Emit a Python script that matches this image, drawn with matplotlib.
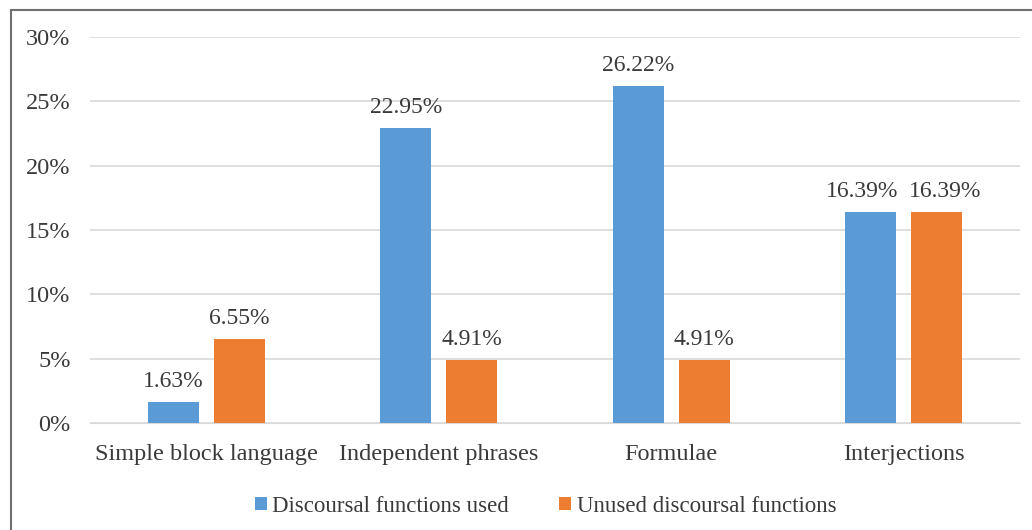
import matplotlib

matplotlib.use("Agg")
import matplotlib.pyplot as plt
import numpy as np
from matplotlib.patches import Rectangle

categories = ["Simple block language", "Independent phrases", "Formulae", "Interjections"]
used = [1.63, 22.95, 26.22, 16.39]
unused = [6.55, 4.91, 4.91, 16.39]
series_names = ["Discoursal functions used", "Unused discoursal functions"]

BLUE = "#5B9BD5"
ORANGE = "#ED7D31"
TEXT = "#3A3A3A"

plt.rcParams["font.family"] = ["Liberation Serif", "DejaVu Serif"]

fig = plt.figure(figsize=(10.32, 5.30), dpi=100)
ax = fig.add_axes([90 / 1032, 1 - 423 / 530, 930 / 1032, 386 / 530])

x = np.arange(len(categories))
w = 0.22
off = 0.142
b1 = ax.bar(x - off, used, w, color=BLUE, label=series_names[0], zorder=3)
b2 = ax.bar(x + off, unused, w, color=ORANGE, label=series_names[1], zorder=3)

# value labels; labels of equal-height neighbours are pushed apart so they don't collide
for i in range(len(categories)):
    close = abs(used[i] - unused[i]) < 2
    for rect, v, side in ((b1[i], used[i], -1), (b2[i], unused[i], 1)):
        dx = side * 6 if close else 0
        ax.annotate(f"{v:.2f}%", (rect.get_x() + rect.get_width() / 2, v),
                    xytext=(dx, 7), textcoords="offset points",
                    ha="center", va="bottom", fontsize=17, color=TEXT)

ax.set_xlim(-0.5, len(categories) - 0.5)
ax.set_ylim(0, 30)
ax.set_yticks(np.arange(0, 31, 5))
ax.set_yticklabels([f"{t}%" for t in range(0, 31, 5)])
ax.set_xticks(x)
ax.set_xticklabels(categories)
ax.tick_params(axis="both", length=0, labelsize=17.5, colors=TEXT)
ax.tick_params(axis="y", pad=14)
ax.tick_params(axis="x", pad=15)
ax.grid(axis="y", color="#D9D9D9", lw=1.2, zorder=0)
for s in ("top", "right", "left"):
    ax.spines[s].set_visible(False)
ax.spines["bottom"].set_color("#D9D9D9")

ax.legend(loc="upper center", bbox_to_anchor=(0.49, -0.135), ncol=2, frameon=False,
          fontsize=16.5, handlelength=0.5, handleheight=0.5, handletextpad=0.25,
          columnspacing=2.2, labelcolor=TEXT)

# outer frame of the chart area
fig.patches.append(Rectangle((11 / 1032, -0.1), 1.2, 1 - 10 / 530 + 0.1,
                             transform=fig.transFigure, fill=False,
                             edgecolor="#707070", lw=1.5))

fig.savefig("out.png", dpi=100)
